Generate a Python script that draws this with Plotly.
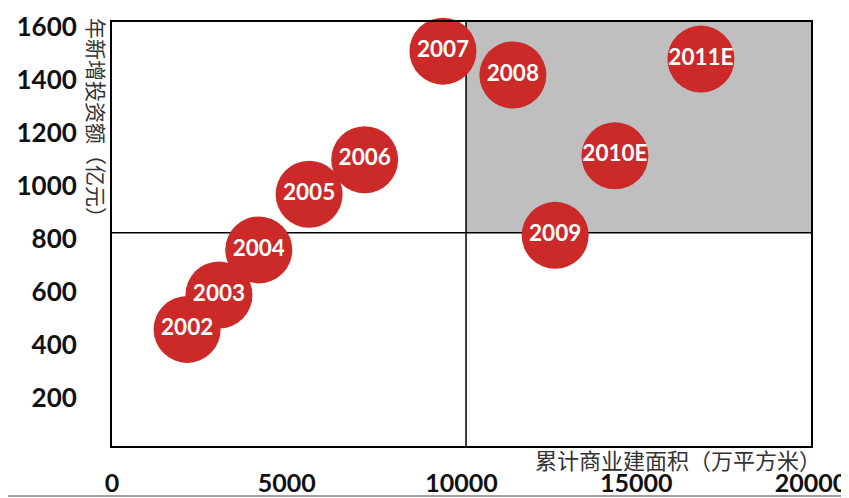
import plotly.graph_objects as go

# ---- data ----
years = ["2002", "2003", "2004", "2005", "2006", "2007", "2008", "2009", "2010E", "2011E"]
area = [2150, 3060, 4200, 5640, 7230, 9470, 11470, 12680, 14390, 16850]   # 累计商业建面积（万平方米）
invest = [440, 570, 740, 950, 1080, 1490, 1400, 795, 1095, 1460]          # 年新增投资额（亿元）

x_split = 10130
y_split = 805
x_max = 20000
y_max = 1600
x_ticks = [0, 5000, 10000, 15000, 20000]
y_ticks = [200, 400, 600, 800, 1000, 1200, 1400, 1600]

x_title = "累计商业建面积（万平方米）"
y_title = "年新增投资额（亿元）"

W, H = 849, 498
OFF = 8  # page body margin
# target plot frame in window pixels: left 112, right 811, top 22, bottom 446
L = 112 - OFF
T = 22 - OFF
R = W - (811 - OFF)
B = H - (446 - OFF)
pw, ph = W - L - R, H - T - B

def px_x(p):
    return (p - OFF - L) / pw

def px_y(p):
    return (H - B - (p - OFF)) / ph

fig = go.Figure()
fig.add_trace(go.Scatter(
    x=area, y=invest, text=years,
    mode="markers+text",
    textposition="middle center",
    marker=dict(size=67, color="#CC2929", line=dict(width=0), opacity=1),
    textfont=dict(family="Lato", size=22.5, color="white", weight="bold"),
    cliponaxis=False,
    hoverinfo="skip",
    showlegend=False,
))

shapes = [
    dict(type="rect", xref="x", yref="y", x0=x_split, x1=x_max, y0=y_split, y1=y_max,
         fillcolor="#BFBFBF", line=dict(width=0), layer="below"),
    dict(type="line", xref="x", yref="y", x0=x_split, x1=x_split, y0=0, y1=y_max,
         line=dict(color="black", width=1.5), layer="below"),
    dict(type="line", xref="x", yref="y", x0=0, x1=x_max, y0=y_split, y1=y_split,
         line=dict(color="black", width=1.5), layer="below"),
    dict(type="line", xref="paper", yref="paper", x0=px_x(5), x1=px_x(849),
         y0=px_y(496), y1=px_y(496), line=dict(color="#444", width=1)),
]

annotations = [
    dict(text=y_title, xref="paper", yref="paper", x=px_x(97), y=px_y(123),
         xanchor="center", yanchor="middle", textangle=90, showarrow=False,
         font=dict(family="Noto Sans CJK SC", size=21, color="#333")),
    dict(text=x_title, xref="paper", yref="paper", x=px_x(823), y=px_y(459),
         xanchor="right", yanchor="middle", showarrow=False,
         font=dict(family="Noto Sans CJK SC", size=22, color="#333")),
]

fig.update_layout(
    width=W, height=H,
    margin=dict(l=L, r=R, t=T, b=B, pad=0, autoexpand=False),
    paper_bgcolor="white", plot_bgcolor="white",
    shapes=shapes, annotations=annotations,
    xaxis=dict(range=[0, x_max], tickvals=x_ticks, ticktext=[str(v) for v in x_ticks],
               showgrid=False, zeroline=False, showline=True, mirror=True,
               linecolor="black", linewidth=2, ticks="", ticklabelstandoff=14,
               automargin=False, ticklabeloverflow="allow",
               tickfont=dict(family="Lato", size=25, color="#111", weight="bold")),
    yaxis=dict(range=[0, y_max], tickvals=y_ticks, ticktext=[str(v) for v in y_ticks],
               showgrid=False, zeroline=False, showline=True, mirror=True,
               linecolor="black", linewidth=2, ticks="", ticklabelstandoff=28,
               ticklabelshift=5,
               automargin=False, ticklabeloverflow="allow",
               tickfont=dict(family="Lato", size=26, color="#111", weight="bold")),
)

fig.write_html("out.html")
